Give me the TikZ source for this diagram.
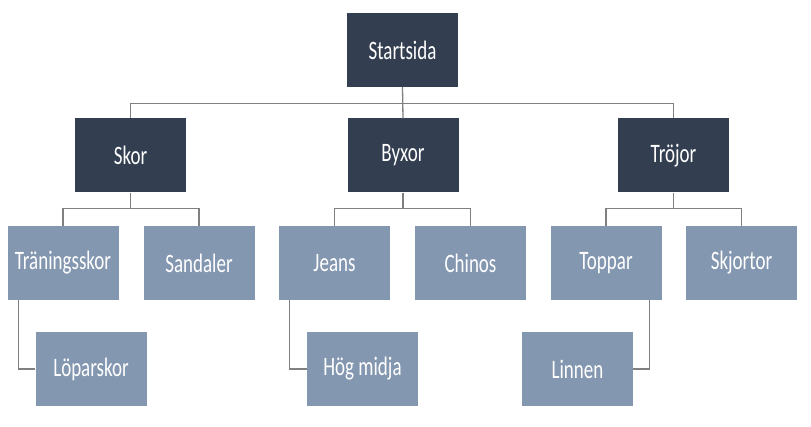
\documentclass[tikz,border=0pt]{standalone}
\usepackage{fontspec}
\setmainfont{Carlito}
\definecolor{darkbox}{HTML}{333F50}
\definecolor{lightbox}{HTML}{8497B0}
\definecolor{conn}{HTML}{808080}
\begin{document}
\begin{tikzpicture}[x=1pt,y=1pt,
  box/.style={minimum width=111pt,minimum height=74pt,inner sep=0pt,text=white,font=\fontsize{19}{22}\selectfont},
  topbox/.style={box,fill=darkbox},
  leafbox/.style={box,fill=lightbox},
  link/.style={draw=conn,line width=1.3pt}]
\useasboundingbox (0,0) rectangle (811,-427);
\newcommand{\tx}[1]{\scalebox{1}[1.4]{#1}}
\node[topbox] (start) at (402.5,-50) {\tx{Startsida}};
\node[topbox] (skor) at (130.5,-155.5) {\tx{Skor}};
\node[topbox] (byxor) at (403,-155.5) {\tx{Byxor}};
\node[topbox] (trojor) at (673.5,-155.5) {\tx{Tröjor}};
\node[leafbox] (tran) at (63,-263) {\tx{Träningsskor}};
\node[leafbox] (sand) at (199,-263) {\tx{Sandaler}};
\node[leafbox] (jeans) at (334.5,-263) {\tx{Jeans}};
\node[leafbox] (chin) at (470.5,-263) {\tx{Chinos}};
\node[leafbox] (topp) at (606,-263) {\tx{Toppar}};
\node[leafbox] (skjo) at (741.5,-263) {\tx{Skjortor}};
\node[leafbox] (lopa) at (91,-369) {\tx{Löparskor}};
\node[leafbox] (hog) at (362.5,-369) {\tx{Hög midja}};
\node[leafbox] (linn) at (577.5,-369) {\tx{Linnen}};
\draw[link] (start.south) -- ++(0,-16) -| (skor.north);
\draw[link] (start.south) -- ++(0,-16) -| (trojor.north);
\draw[link] (start.south) -- (byxor.north);
\draw[link] (skor.south) -- ++(0,-16) -| (tran.north);
\draw[link] (skor.south) -- ++(0,-16) -| (sand.north);
\draw[link] (byxor.south) -- ++(0,-16) -| (jeans.north);
\draw[link] (byxor.south) -- ++(0,-16) -| (chin.north);
\draw[link] (trojor.south) -- ++(0,-16) -| (topp.north);
\draw[link] (trojor.south) -- ++(0,-16) -| (skjo.north);
\draw[link] ([xshift=11pt]tran.south west) |- (lopa.west);
\draw[link] ([xshift=11pt]jeans.south west) |- (hog.west);
\draw[link] ([xshift=-12pt]topp.south east) |- (linn.east);
\end{tikzpicture}
\end{document}
